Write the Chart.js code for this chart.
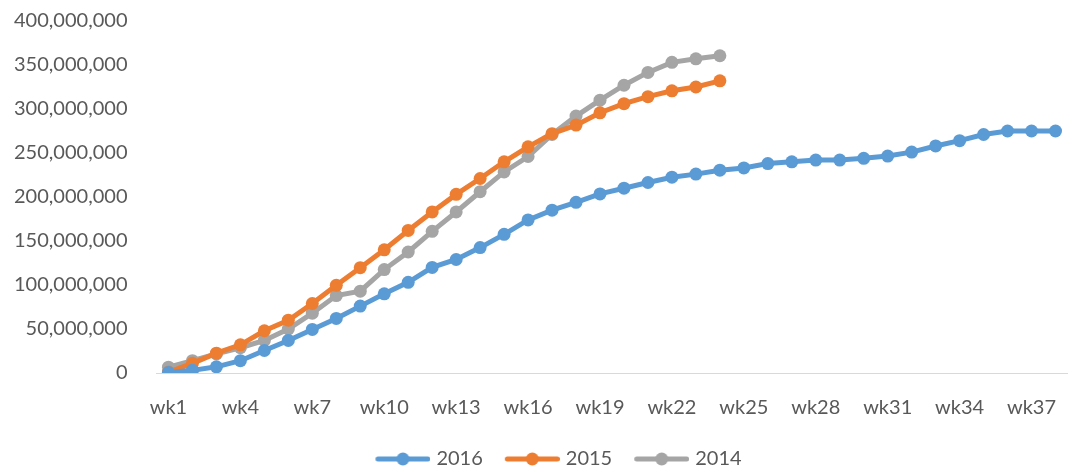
<!DOCTYPE html>
<html>
<head>
<meta charset="utf-8">
<script src="https://cdn.jsdelivr.net/npm/chart.js@4"></script>
<style>
  html, body { margin: 0; padding: 0; background: #fff; }
  #wrap { width: 1074px; height: 472px; }
</style>
</head>
<body>
<div id="wrap"><canvas id="weeksChart" width="1074" height="472"></canvas></div>
<script>
const weeks = ["wk1", "wk2", "wk3", "wk4", "wk5", "wk6", "wk7", "wk8", "wk9", "wk10",
  "wk11", "wk12", "wk13", "wk14", "wk15", "wk16", "wk17", "wk18", "wk19", "wk20",
  "wk21", "wk22", "wk23", "wk24", "wk25", "wk26", "wk27", "wk28", "wk29", "wk30",
  "wk31", "wk32", "wk33", "wk34", "wk35", "wk36", "wk37", "wk38"];

const values2016 = [500000, 3000000, 7000000, 14000000, 25600000, 37000000, 49500000, 62000000,
  76000000, 90000000, 103000000, 120000000, 129000000, 142500000, 157600000, 174000000,
  185000000, 194000000, 203500000, 210000000, 216500000, 222500000, 226000000, 230500000,
  233000000, 238000000, 240000000, 242000000, 242000000, 244000000, 246500000, 251000000,
  258000000, 264000000, 271000000, 275000000, 275000000, 275000000];

const values2015 = [1000000, 11000000, 22500000, 32000000, 48000000, 60000000, 79000000, 99600000,
  119700000, 140000000, 162000000, 183000000, 203000000, 221000000, 240000000, 257000000,
  272000000, 281700000, 295700000, 306000000, 314000000, 320700000, 325000000, 332000000];

const values2014 = [6600000, 14000000, 21800000, 28700000, 37000000, 50000000, 68000000, 88000000,
  93000000, 117500000, 137500000, 161000000, 183000000, 206000000, 228500000, 246000000,
  271000000, 292000000, 310000000, 327000000, 341600000, 353000000, 357000000, 360500000];

const seriesNames = ["2016", "2015", "2014"];
const seriesColors = ["#5B9BD5", "#ED7D31", "#A5A5A5"];

const textColor = "#595959";
const fontFamily = "Lato, 'Open Sans', sans-serif";

// legend icon: short line with a dot in the middle (left part of the canvas is empty
// so the icon sits close to its text)
function legendIcon(color) {
  const c = document.createElement("canvas");
  c.width = 71;
  c.height = 14;
  const g = c.getContext("2d");
  g.strokeStyle = color;
  g.lineWidth = 5;
  g.lineCap = "round";
  g.beginPath();
  g.moveTo(18.5, 7);
  g.lineTo(68.5, 7);
  g.stroke();
  g.fillStyle = color;
  g.beginPath();
  g.arc(43.5, 7, 6.5, 0, Math.PI * 2);
  g.fill();
  return c;
}

function makeDataset(i, values) {
  return {
    label: seriesNames[i],
    data: values,
    borderColor: seriesColors[i],
    backgroundColor: seriesColors[i],
    borderWidth: 5,
    pointRadius: 6.5,
    pointHoverRadius: 6.5,
    pointBorderWidth: 0,
    tension: 0,
    fill: false
  };
}

// excel puts the legend a bit right of the canvas centre
const legendShift = {
  id: "legendShift",
  afterLayout(ch) {
    if (ch.legend) {
      ch.legend.left += 15;
      ch.legend.right += 15;
    }
  }
};

const ctx = document.getElementById("weeksChart").getContext("2d");

const chart = new Chart(ctx, {
  type: "line",
  data: {
    labels: weeks,
    datasets: [
      makeDataset(0, values2016),
      makeDataset(1, values2015),
      makeDataset(2, values2014)
    ]
  },
  plugins: [legendShift],
  options: {
    responsive: false,
    animation: false,
    layout: {
      padding: { left: 5, right: 4, top: 0, bottom: -7 }
    },
    plugins: {
      tooltip: { enabled: false },
      legend: {
        display: true,
        position: "bottom",
        labels: {
          usePointStyle: true,
          pointStyleWidth: 63,
          boxHeight: 14,
          padding: 10,
          color: textColor,
          font: { family: fontFamily, size: 20 },
          generateLabels: (ch) => ch.data.datasets.map((ds, i) => ({
            text: ds.label,
            fillStyle: ds.borderColor,
            strokeStyle: ds.borderColor,
            fontColor: textColor,
            lineWidth: 0,
            pointStyle: legendIcon(ds.borderColor),
            datasetIndex: i,
            hidden: false
          }))
        }
      }
    },
    scales: {
      x: {
        offset: true,
        grid: { display: false },
        border: { display: true, color: "#D9D9D9", width: 1 },
        afterFit: (scale) => { scale.height += 5; },
        ticks: {
          autoSkip: false,
          maxRotation: 0,
          padding: 14.5,
          color: textColor,
          font: { family: fontFamily, size: 20 },
          callback: function (val, index) {
            return index % 3 === 0 ? this.getLabelForValue(val) : "";
          }
        }
      },
      y: {
        min: 0,
        max: 400000000,
        grid: { display: false, tickLength: 20 },
        border: { display: false },
        ticks: {
          stepSize: 50000000,
          padding: 9,
          color: textColor,
          font: { family: fontFamily, size: 20 },
          callback: (v) => v.toLocaleString("en-US")
        }
      }
    }
  }
});
</script>
</body>
</html>
